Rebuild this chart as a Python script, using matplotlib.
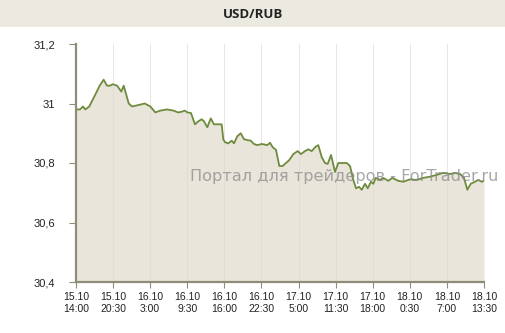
import matplotlib
matplotlib.use("Agg")
import matplotlib.pyplot as plt
import numpy as np

# Hours since 15.10 14:00
hours = [0, 0.7, 1.23, 1.63, 2.33, 3.38, 4.15, 4.85, 5.43, 6.01, 6.43, 7.19, 7.94, 8.36,
         9.24, 9.81, 10.99, 12.04, 13.02, 13.9, 14.77, 15.95, 17.12, 17.88, 18.45,
         19.1, 19.5, 20.15, 20.85, 21.43, 22.03, 22.43, 23.01, 23.61, 24.18, 24.94,
         25.53, 25.81, 26.11, 26.69, 27.28, 27.69, 28.27, 28.86, 29.44, 30.02, 30.62,
         31.19, 31.77, 32.54, 33.53, 34.0, 34.47, 35.05, 35.63, 36.22, 36.8, 37.38,
         38.08, 38.85, 39.43, 40.13, 40.71, 41.31, 42.01, 42.46, 43.06, 43.64, 44.11,
         44.69, 45.39, 45.97, 46.67, 47.44, 48.02, 48.6, 49.07, 49.6, 50.07, 50.65,
         51.12, 51.7, 52.1, 52.52, 53.28, 53.85, 54.73, 55.43, 56.48, 57.36, 58.53,
         59.71, 60.86, 62.04, 63.21, 64.37, 65.54, 66.42, 67.3, 68.0, 68.58, 69.17,
         69.92, 70.5, 71.1, 71.5]
rate = [30.98, 30.98, 30.99, 30.98, 30.99, 31.03, 31.06, 31.08, 31.06, 31.06, 31.065,
        31.06, 31.04, 31.06, 31.0, 30.99, 30.995, 31.0, 30.99, 30.97, 30.976, 30.98,
        30.976, 30.97, 30.972,
        30.976, 30.97, 30.968, 30.93, 30.94, 30.947, 30.94, 30.92, 30.95, 30.93, 30.93,
        30.93, 30.88, 30.87, 30.866, 30.875, 30.866, 30.89, 30.90, 30.88, 30.877, 30.875,
        30.864, 30.86, 30.864, 30.86, 30.868, 30.853, 30.844, 30.79, 30.79, 30.80,
        30.81, 30.83, 30.84, 30.83, 30.84, 30.846, 30.84, 30.855, 30.86, 30.82, 30.80,
        30.797, 30.827, 30.77, 30.80, 30.80, 30.80, 30.79, 30.743, 30.715, 30.72,
        30.71, 30.73, 30.715, 30.737, 30.73, 30.75, 30.743, 30.75, 30.74, 30.75,
        30.74, 30.737, 30.745, 30.743, 30.75, 30.754, 30.76, 30.767, 30.763, 30.767,
        30.763, 30.75, 30.71, 30.73, 30.737, 30.743, 30.737, 30.74]

tick_hours = [0, 6.5, 13, 19.5, 26, 32.5, 39, 45.5, 52, 58.5, 65, 71.5]
tick_labels = ["15.10\n14:00", "15.10\n20:30", "16.10\n3:00", "16.10\n9:30",
               "16.10\n16:00", "16.10\n22:30", "17.10\n5:00", "17.10\n11:30",
               "17.10\n18:00", "18.10\n0:30", "18.10\n7:00", "18.10\n13:30"]
y_ticks = [30.4, 30.6, 30.8, 31.0, 31.2]
y_labels = ["30,4", "30,6", "30,8", "31", "31,2"]

title = "USD/RUB"
watermark = "Портал для трейдеров - ForTrader.ru"

fill_color = "#E9E5DA"
line_color = "#6E8B3D"
axis_color = "#8E8E78"
band_color = "#ECE9E1"

fig = plt.figure(figsize=(5.06, 3.33), dpi=100)
fig.patch.set_facecolor("white")

# Title band
band = fig.add_axes([0, 1 - 27 / 333, 1, 27 / 333])
band.set_facecolor(band_color)
band.set_xticks([]); band.set_yticks([])
for s in band.spines.values():
    s.set_visible(False)
band.text(0.5, 0.45, title, ha="center", va="center", fontsize=9.5,
          fontweight="bold", family="Open Sans", color="#222222")

ax = fig.add_axes([76 / 506, 1 - 282 / 333, (484 - 76) / 506, (282 - 44) / 333])
ax.set_facecolor("white")
ax.fill_between(hours, rate, 30.4, color=fill_color, zorder=1, linewidth=0)
ax.plot(hours, rate, color=line_color, linewidth=1.3, zorder=4)
for t in tick_hours[1:-1]:
    ax.axvline(t, color="#D8D8D0", linewidth=0.6, alpha=0.7, zorder=2)

fig.text(190 / 506, 1 - 177 / 333, watermark, ha="left", va="center",
         fontsize=11.6, color="#8A8A8A", alpha=0.75, zorder=3, family="DejaVu Sans")

ax.set_xlim(0, 71.5)
ax.set_ylim(30.4, 31.2)
ax.set_xticks(tick_hours)
ax.set_xticklabels(tick_labels, fontsize=7.5, family="Liberation Sans", color="#222222",
                   linespacing=1.25)
ax.set_yticks(y_ticks)
ax.set_yticklabels(y_labels, fontsize=8, family="Liberation Sans", color="#222222")
ax.tick_params(axis="x", length=4, width=0.8, color=axis_color, direction="out", pad=3)
ax.tick_params(axis="y", length=5, width=0.8, color=axis_color, direction="out", pad=10)

for s in ["top", "right"]:
    ax.spines[s].set_visible(False)
for s in ["left", "bottom"]:
    ax.spines[s].set_color(axis_color)
    ax.spines[s].set_linewidth(1.6)
    ax.spines[s].set_zorder(5)

fig.savefig("out.png", dpi=100)
